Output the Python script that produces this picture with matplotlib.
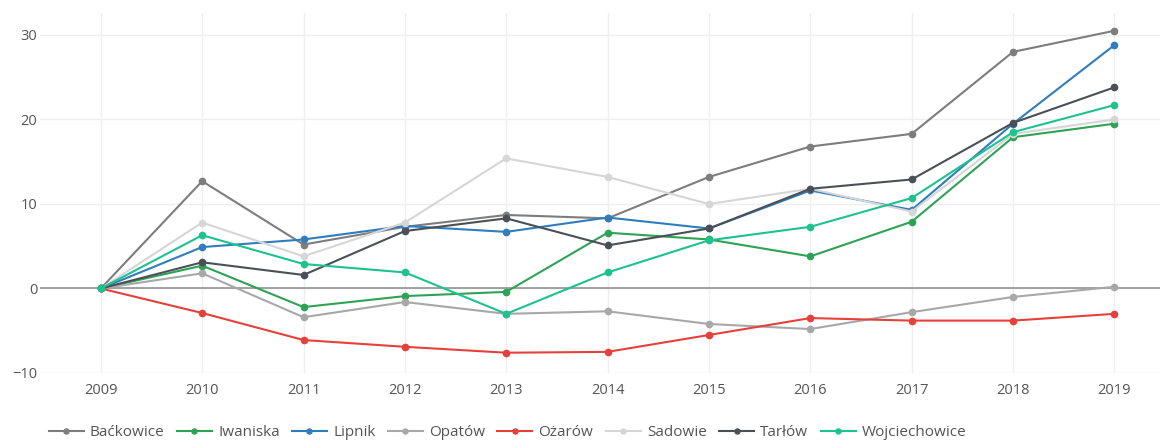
import matplotlib.pyplot as plt

plt.rcParams['font.family'] = ['Open Sans', 'DejaVu Sans']

years = [2009, 2010, 2011, 2012, 2013, 2014, 2015, 2016, 2017, 2018, 2019]

backowice = [0, 12.7, 5.2, 7.3, 8.7, 8.3, 13.2, 16.8, 18.3, 28.0, 30.5]
iwaniska = [0, 2.7, -2.2, -0.9, -0.4, 6.6, 5.8, 3.8, 7.9, 17.9, 19.5]
lipnik = [0, 4.9, 5.8, 7.4, 6.7, 8.4, 7.1, 11.6, 9.3, 19.5, 28.8]
opatow = [0, 1.8, -3.4, -1.6, -3.0, -2.7, -4.2, -4.8, -2.8, -1.0, 0.2]
ozarow = [0, -2.9, -6.1, -6.9, -7.6, -7.5, -5.5, -3.5, -3.8, -3.8, -3.0]
sadowie = [0, 7.8, 3.8, 7.8, 15.4, 13.2, 10.0, 11.8, 9.1, 18.3, 20.0]
tarlow = [0, 3.1, 1.6, 6.8, 8.3, 5.1, 7.1, 11.8, 12.9, 19.6, 23.8]
wojciechowice = [0, 6.3, 2.9, 1.9, -3.0, 1.9, 5.7, 7.3, 10.7, 18.5, 21.7]

names = ['Baćkowice', 'Iwaniska', 'Lipnik', 'Opatów', 'Ożarów', 'Sadowie', 'Tarłów', 'Wojciechowice']
series = [backowice, iwaniska, lipnik, opatow, ozarow, sadowie, tarlow, wojciechowice]
colors = ['#7d7d7d', '#2ea356', '#2f7dbd', '#a8a8a8', '#e5413a', '#d6d6d6', '#4b5058', '#1ec28e']

yticks = [-10, 0, 10, 20, 30]

fig = plt.figure(figsize=(11.6, 4.41), dpi=100)
ax = fig.add_axes([40 / 1160, 1 - 373 / 441, 1120 / 1160, 360 / 441])

for name, vals, c in zip(names, series, colors):
    ax.plot(years, vals, color=c, lw=1.5, marker='o', markersize=4.5, label=name, zorder=3)

ax.axhline(0, color='#8a8a8a', lw=1.1, zorder=2)

ax.set_xlim(2008.4, 2019.45)
ax.set_ylim(-10, 32.6)
ax.set_xticks(years)
ax.set_yticks(yticks)
ax.set_yticklabels(['\u221210', '0', '10', '20', '30'])
ax.grid(True, color='#efefef', lw=1, zorder=0)
for s in ax.spines.values():
    s.set_visible(False)
ax.tick_params(length=0, colors='#555555', labelsize=10.5)
ax.tick_params(axis='x', pad=7)
ax.tick_params(axis='y', pad=2)

fig.legend(loc='lower left', bbox_to_anchor=(0.03, -0.03), ncol=8, frameon=False,
           handlelength=2.3, handletextpad=0.4, columnspacing=0.8,
           fontsize=11, labelcolor='#555555', markerscale=0.8)

fig.savefig('out.png', dpi=100)
